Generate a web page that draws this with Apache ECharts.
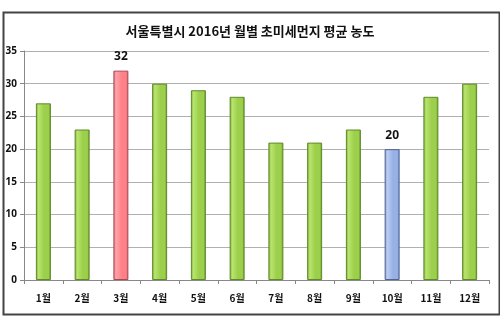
<!DOCTYPE html>
<html>
<head>
<meta charset="utf-8">
<script src="https://cdn.jsdelivr.net/npm/echarts@6/dist/echarts.min.js"></script>
<style>
  html, body { margin: 0; padding: 0; background: #fff; }
  #chart { width: 500px; height: 328px; }
</style>
</head>
<body>
<div id="chart"></div>
<script>
// 서울특별시 2016년 월별 초미세먼지 평균 농도
const titleText = '서울특별시 2016년 월별 초미세먼지 평균 농도';
const months = ['1월', '2월', '3월', '4월', '5월', '6월', '7월', '8월', '9월', '10월', '11월', '12월'];
const pm25 = [27, 23, 32, 30, 29, 28, 21, 21, 23, 20, 28, 30];
const highlightMax = 2; // 3월
const highlightMin = 9; // 10월

function barGradient(edge, light, mid, dark) {
  return new echarts.graphic.LinearGradient(0, 0, 1, 0, [
    { offset: 0, color: edge },
    { offset: 0.18, color: light },
    { offset: 0.55, color: mid },
    { offset: 0.85, color: mid },
    { offset: 1, color: dark }
  ]);
}

const greenStyle = { color: barGradient('#7fae35', '#b9e46e', '#9ccf4b', '#5f8d22'), borderColor: '#5e8a2a', borderWidth: 1 };
const redStyle = { color: barGradient('#e0707a', '#ffa3aa', '#ff8088', '#c2545d'), borderColor: '#a64a52', borderWidth: 1 };
const blueStyle = { color: barGradient('#7e9ad0', '#bccdf0', '#97b1e6', '#6681ba'), borderColor: '#4f6590', borderWidth: 1 };

const barData = pm25.map((v, i) => {
  if (i === highlightMax) {
    return { value: v, itemStyle: redStyle, label: { show: true } };
  }
  if (i === highlightMin) {
    return { value: v, itemStyle: blueStyle, label: { show: true } };
  }
  return { value: v, itemStyle: greenStyle };
});

const chart = echarts.init(document.getElementById('chart'), null, { renderer: 'canvas' });
chart.setOption({
  animation: false,
  backgroundColor: '#fff',
  textStyle: { fontFamily: '"Noto Sans CJK KR", "Noto Sans", sans-serif' },
  title: {
    text: titleText,
    left: 'center',
    top: 20,
    textStyle: { fontSize: 13, fontWeight: 'bold', color: '#111', fontFamily: '"Noto Sans CJK KR", sans-serif' }
  },
  graphic: [{
    type: 'rect',
    left: 1,
    top: 10,
    shape: { width: 496, height: 302 },
    style: { fill: 'none', stroke: '#444', lineWidth: 2 },
    silent: true,
    z: 100
  }],
  grid: { left: 24, right: 11, top: 51, bottom: 48, containLabel: false },
  xAxis: {
    type: 'category',
    data: months,
    axisLine: { lineStyle: { color: '#888', width: 1 } },
    axisTick: { show: true, length: 4, alignWithLabel: false, lineStyle: { color: '#888' } },
    axisLabel: { color: '#111', fontSize: 10, fontWeight: 'bold', margin: 13, fontFamily: '"Noto Sans CJK KR", sans-serif' }
  },
  yAxis: {
    type: 'value',
    min: 0,
    max: 35,
    interval: 5,
    axisLine: { show: true, lineStyle: { color: '#888' } },
    axisTick: { show: true, length: 4, lineStyle: { color: '#888' } },
    axisLabel: { color: '#111', fontSize: 10, fontWeight: 'bold', margin: 7, fontFamily: '"Noto Sans", sans-serif' },
    splitLine: { lineStyle: { color: '#b0b0b0', width: 1 } }
  },
  series: [{
    type: 'bar',
    data: barData,
    barWidth: 15,
    label: {
      show: false,
      position: 'top',
      distance: 8,
      color: '#111',
      fontSize: 12,
      fontWeight: 'bold',
      fontFamily: '"Noto Sans", sans-serif'
    }
  }]
});
</script>
</body>
</html>
